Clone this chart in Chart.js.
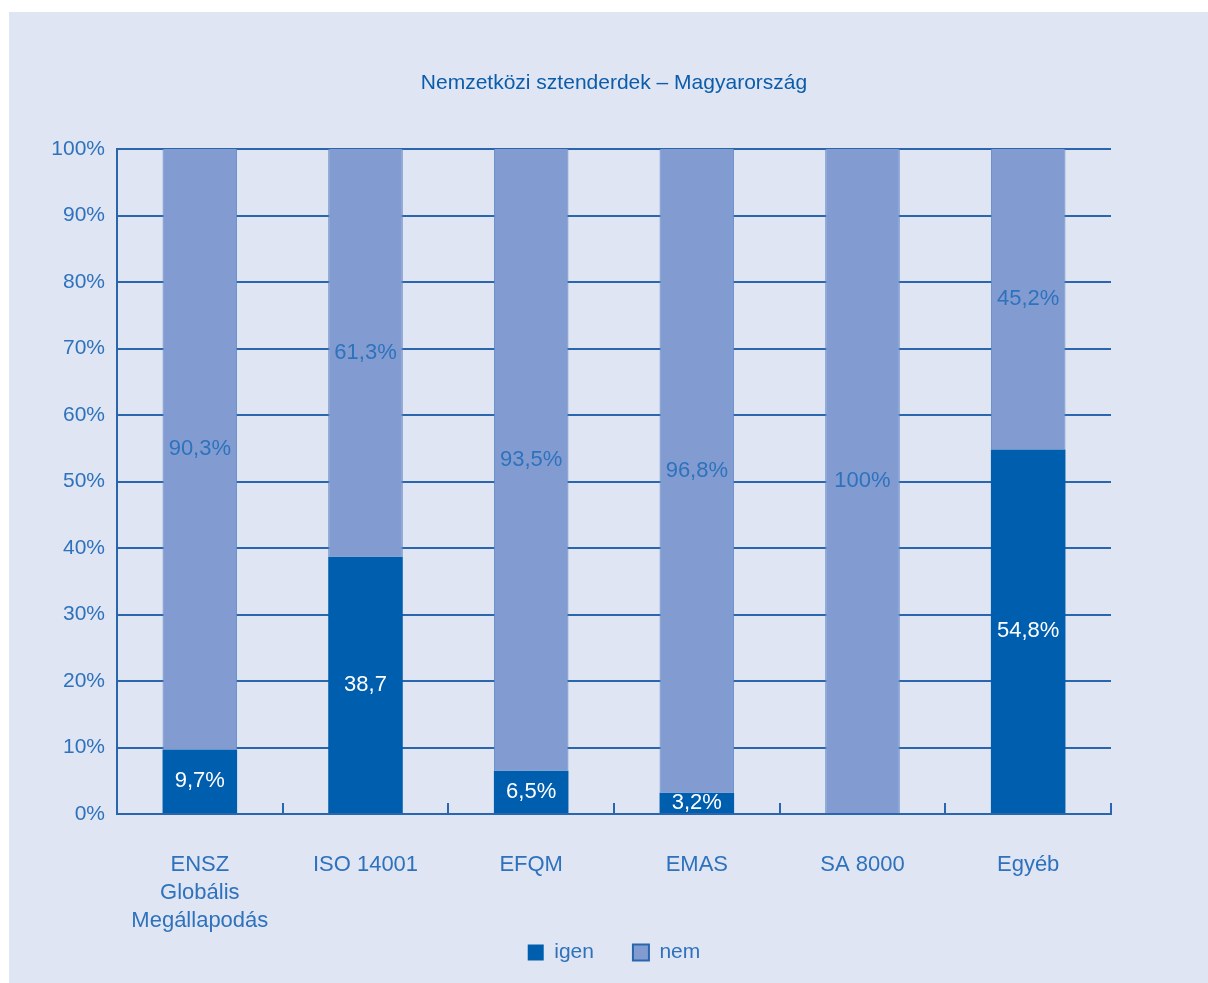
<!DOCTYPE html>
<html>
<head>
<meta charset="utf-8">
<script src="https://cdn.jsdelivr.net/npm/chart.js@4"></script>
<style>
  html, body { margin: 0; padding: 0; background: #ffffff; }
  #wrap { position: absolute; left: 9px; top: 12px; width: 1199px; height: 971px; background: #dfe5f2; }
  canvas { display: block; }
</style>
</head>
<body>
<div id="wrap"><canvas id="c" width="1199" height="971"></canvas></div>
<script>
const categories = [["ENSZ", "Globális", "Megállapodás"], "ISO 14001", "EFQM", "EMAS", "SA 8000", "Egyéb"];
const igenValues = [9.7, 38.7, 6.5, 3.2, 0, 54.8];
const nemValues = [90.3, 61.3, 93.5, 96.8, 100, 45.2];
const igenLabels = ["9,7%", "38,7", "6,5%", "3,2%", "", "54,8%"];
const nemLabels = ["90,3%", "61,3%", "93,5%", "96,8%", "100%", "45,2%"];
const yTicks = [0, 10, 20, 30, 40, 50, 60, 70, 80, 90, 100];
const seriesNames = ["igen", "nem"];

const FONT = "'Liberation Sans', Arial, sans-serif";
const LINE = '#2a66ae';
const TEXT = '#2e72bd';
const DARK = '#005eae';
const LIGHT = '#829cd1';

const valueLabels = {
  id: 'valueLabels',
  afterDatasetsDraw(chart) {
    const ctx = chart.ctx;
    const texts = [igenLabels, nemLabels];
    const colors = ['#ffffff', TEXT];
    ctx.save();
    ctx.font = '22px ' + FONT;
    ctx.textAlign = 'center';
    ctx.textBaseline = 'middle';
    chart.data.datasets.forEach((ds, di) => {
      const meta = chart.getDatasetMeta(di);
      meta.data.forEach((el, i) => {
        const t = texts[di][i];
        if (!t) return;
        ctx.fillStyle = colors[di];
        ctx.fillText(t, el.x, (el.y + el.base) / 2);
      });
    });
    ctx.restore();
  }
};

const bottomTicks = {
  id: 'bottomTicks',
  afterDatasetsDraw(chart) {
    const ctx = chart.ctx;
    const xs = chart.scales.x;
    const area = chart.chartArea;
    const step = xs.getPixelForValue(1) - xs.getPixelForValue(0);
    ctx.save();
    ctx.strokeStyle = LINE;
    ctx.lineWidth = 2;
    for (let i = 0; i < categories.length; i++) {
      const x = Math.round(xs.getPixelForValue(i) + step / 2);
      ctx.beginPath();
      ctx.moveTo(x, area.bottom);
      ctx.lineTo(x, area.bottom - 11);
      ctx.stroke();
    }
    ctx.restore();
  }
};

new Chart(document.getElementById('c'), {
  type: 'bar',
  data: {
    labels: categories,
    datasets: [
      { label: seriesNames[0], data: igenValues, backgroundColor: DARK, borderWidth: 0,
        barPercentage: 0.45, categoryPercentage: 1 },
      { label: seriesNames[1], data: nemValues, backgroundColor: LIGHT, borderColor: '#5f87c6',
        borderWidth: { left: 1, right: 1, top: 0, bottom: 0 }, borderSkipped: false,
        barPercentage: 0.45, categoryPercentage: 1 }
    ]
  },
  options: {
    responsive: false,
    devicePixelRatio: 1,
    animation: false,
    layout: { padding: { top: 0, left: 0, right: 97, bottom: 10 } },
    plugins: {
      title: {
        display: true,
        fullSize: false,
        text: 'Nemzetközi sztenderdek – Magyarország',
        color: '#0b5cab',
        font: { family: FONT, size: 21, weight: 'normal', lineHeight: 1.2 },
        padding: { top: 59, bottom: 52.8 }
      },
      legend: {
        position: 'bottom',
        fullSize: false,
        labels: {
          boxWidth: 16, boxHeight: 16, padding: 4,
          color: TEXT,
          font: { family: FONT, size: 21 },
          generateLabels(chart) {
            return chart.data.datasets.map((ds, i) => ({
              text: i === 0 ? ds.label + '      ' : ds.label,
              fillStyle: ds.backgroundColor,
              strokeStyle: i === 0 ? DARK : '#2a66ae', lineWidth: i === 0 ? 0 : 2,
              fontColor: TEXT, datasetIndex: i, hidden: false
            }));
          }
        }
      },
      tooltip: { enabled: false }
    },
    scales: {
      x: {
        stacked: true,
        grid: { display: false },
        border: { display: true, color: LINE, width: 2 },
        ticks: { color: TEXT, font: { family: FONT, size: 22, lineHeight: 1.27 }, padding: 29, maxRotation: 0, autoSkip: false },
        afterFit(s) { s.height = 124; }
      },
      y: {
        stacked: true,
        min: 0, max: 100,
        afterBuildTicks(s) { s.ticks = yTicks.map(v => ({ value: v })); },
        grid: { color: LINE, lineWidth: 2, drawTicks: false },
        border: { display: true, color: LINE, width: 2 },
        ticks: { color: TEXT, font: { family: FONT, size: 21 }, padding: 12, callback: v => v + '%' },
        afterFit(s) { s.width = 108; }
      }
    }
  },
  plugins: [valueLabels, bottomTicks]
});
</script>
</body>
</html>
